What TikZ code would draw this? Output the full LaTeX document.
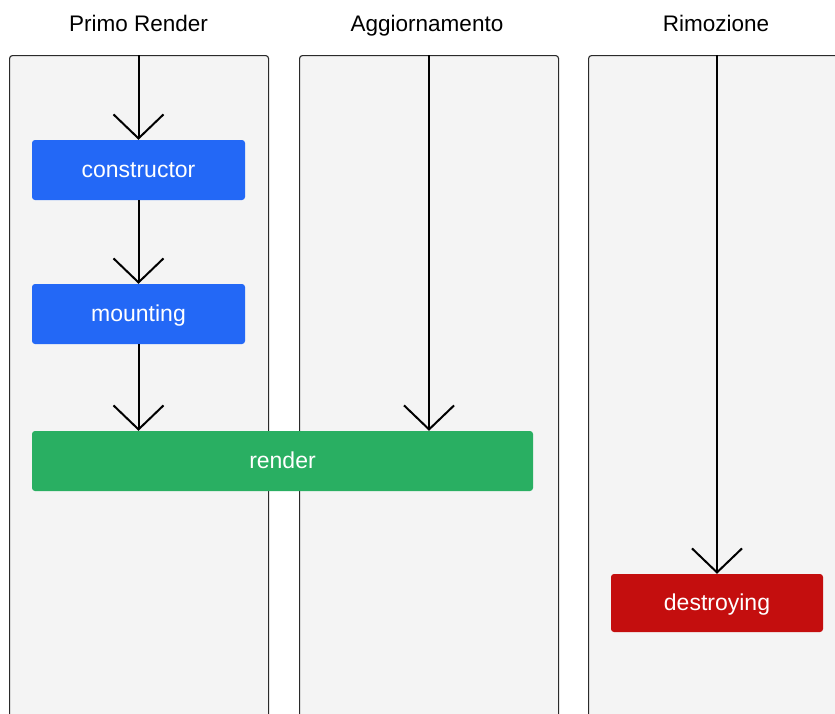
\documentclass[tikz,border=0pt]{standalone}
\usepackage{fontspec}
\setmainfont{Liberation Sans}
\usetikzlibrary{arrows.meta}
\definecolor{laneFill}{HTML}{F4F4F4}
\definecolor{laneLine}{HTML}{2A2A2A}
\definecolor{stepBlue}{HTML}{2368F6}
\definecolor{stepGreen}{HTML}{29AF62}
\definecolor{stepRed}{HTML}{C40E0E}
\tikzset{
  lane/.style={draw=laneLine, line width=1.1pt, fill=laneFill, rounded corners=3pt,
    anchor=north west, minimum width=259pt, minimum height=700pt, inner sep=0pt},
  lanetitle/.style={anchor=base, font=\fontsize{22.5}{26}\selectfont, text=black},
  hook/.style={rounded corners=3pt, draw=none, text=white, inner sep=0pt,
    font=\fontsize{23}{27}\selectfont, text height=14pt, text depth=0pt,
    minimum height=60pt},
  flow/.style={line width=2pt, line join=round,
    -{Straight Barb[length=24pt, width=50pt, line width=2pt]}},
}
\begin{document}
\begin{tikzpicture}[x=1pt, y=-1pt]
  \clip (0,0) rectangle (835,713);
  \fill[white] (0,0) rectangle (835,713);

  % swim lanes
  \node[lane] (lane1) at (9,55) {};
  \node[lane] (lane2) at (299,55) {};
  \node[lane] (lane3) at (588,55) {};

  \node[lanetitle] (t1) at (138.5,31.5) {Primo Render};
  \node[lanetitle] (t2) at (427,31.5) {Aggiornamento};
  \node[lanetitle] (t3) at (716,31.5) {Rimozione};

  % lifecycle steps
  \node[hook, fill=stepBlue, minimum width=213pt] (constructor) at (138.5,170) {constructor};
  \node[hook, fill=stepBlue, minimum width=213pt] (mounting) at (138.5,314) {mounting};
  \node[hook, fill=stepGreen, minimum width=501pt] (render) at (282.5,461) {render};
  \node[hook, fill=stepRed, minimum width=212pt, minimum height=58pt] (destroying) at (717,603) {destroying};

  % flow arrows
  \draw[flow] (constructor.north |- lane1.north) -- (constructor.north);
  \draw[flow] (constructor.south) -- (mounting.north);
  \draw[flow] (mounting.south) -- (mounting.south |- render.north);
  \draw[flow] (lane2.north) -- (lane2.north |- render.north);
  \draw[flow] (destroying.north |- lane3.north) -- (destroying.north);
\end{tikzpicture}
\end{document}
